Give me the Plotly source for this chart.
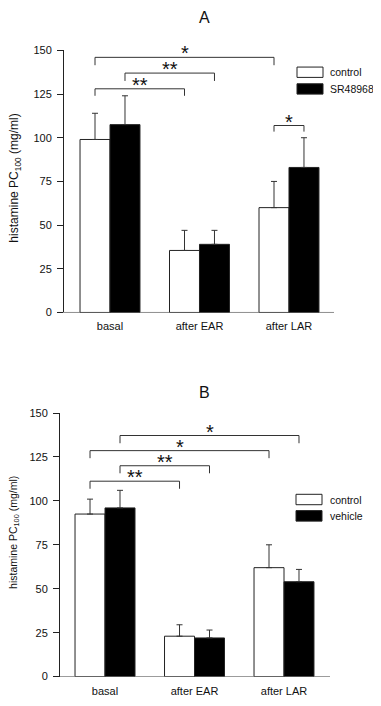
import plotly.graph_objects as go

# ---------------- data ----------------
categories = ["basal", "after EAR", "after LAR"]
y_ticks = [0, 25, 50, 75, 100, 125, 150]

seriesA_names = ["control", "SR48968"]
A_control = [99, 35.5, 60]
A_control_err = [15, 11.5, 15]
A_sr = [107.5, 39, 83]
A_sr_err = [16.5, 8, 17]

seriesB_names = ["control", "vehicle"]
B_control = [92.5, 23, 62]
B_control_err = [8.5, 6.5, 13]
B_vehicle = [96, 22, 54]
B_vehicle_err = [10, 4.5, 7]

# brackets: (label, (group, series), (group, series), level, drop)
bracketsA = [
    ("*", (0, 0), (2, 0), 146, 4.5),
    ("**", (0, 1), (1, 1), 137, 4.5),
    ("**", (0, 0), (1, 0), 128, 4),
    ("*", (2, 0), (2, 1), 107, 3.5),
]
bracketsB = [
    ("*", (0, 1), (2, 1), 137.2, 4.4),
    ("*", (0, 0), (2, 0), 128.6, 4.3),
    ("**", (0, 1), (1, 1), 120, 4.3),
    ("**", (0, 0), (1, 0), 111.2, 4.3),
]

# ---------------- layout constants ----------------
OFF = 8  # page body margin
W, H = 381 - OFF, 706 - OFF
FONT = "Liberation Sans, Arial, Helvetica, sans-serif"
BARGAP = 0.33
half = (1 - BARGAP) / 4  # offset of each bar centre from group centre


def py(px):  # window pixel (from top) -> paper y
    return 1 - (px - OFF) / H


def px_x(px):
    return (px - OFF) / W


fig = go.Figure()

panels = [
    dict(xa="x", ya="y", names=seriesA_names,
         vals=[(A_control, A_control_err), (A_sr, A_sr_err)],
         brackets=bracketsA, title="A",
         xdom=(64, 334), ydom=(311.7, 45), xr=(-0.514, 2.503),
         title_xy=(204, 11.5), ytitle_xy=(15.5, 175), ytitle_size=12,
         legend=(297, 323, [(62, 72.5), (79, 89.5)], 327.5)),
    dict(xa="x2", ya="y2", names=seriesB_names,
         vals=[(B_control, B_control_err), (B_vehicle, B_vehicle_err)],
         brackets=bracketsB, title="B",
         xdom=(60, 330), ydom=(682.2, 414), xr=(-0.503, 2.514),
         title_xy=(204, 393), ytitle_xy=(14, 536), ytitle_size=10.5,
         legend=(296, 322, [(496.7, 507.3), (513.3, 524)], 327.5)),
]

fills = ["white", "black"]
shapes = []
annotations = []

for i, p in enumerate(panels):
    for s, ((v, e), name) in enumerate(zip(p["vals"], p["names"])):
        fig.add_trace(go.Bar(
            x=list(range(len(categories))), y=v, name=name,
            xaxis=p["xa"], yaxis=p["ya"], showlegend=False,
            marker=dict(color=fills[s], line=dict(color="#222", width=1)),
            error_y=dict(type="data", array=e, arrayminus=[0] * len(e),
                         symmetric=False, color="#333", thickness=1, width=3),
        ))
    sfx = "" if i == 0 else "2"
    fig.update_layout(**{
        "xaxis" + sfx: dict(domain=[px_x(p["xdom"][0]), px_x(p["xdom"][1])],
                            range=list(p["xr"]), anchor="y" + sfx,
                            tickvals=list(range(len(categories))), ticktext=categories,
                            showline=False, ticks="", showgrid=False, zeroline=False,
                            ticklabelstandoff=6,
                            tickfont=dict(family=FONT, size=11, color="#111")),
        "yaxis" + sfx: dict(domain=[py(p["ydom"][0]), py(p["ydom"][1])],
                            range=[0, 150], anchor="x" + sfx,
                            tickvals=y_ticks, ticks="outside", ticklen=6,
                            tickcolor="#222", showline=True, linecolor="#222",
                            linewidth=1, showgrid=False, zeroline=False,
                            ticklabelstandoff=3,
                            tickfont=dict(family=FONT, size=11, color="#111")),
    })
    # x axis line slightly extending left of the y axis
    shapes.append(dict(type="line", xref=p["xa"] + " domain", yref=p["ya"],
                       x0=-6 / (p["xdom"][1] - p["xdom"][0]), x1=1, y0=0, y1=0,
                       line=dict(color="#222", width=1)))
    # significance brackets
    for label, (g1, s1), (g2, s2), lvl, drop in p["brackets"]:
        x1 = g1 + (s1 * 2 - 1) * half
        x2 = g2 + (s2 * 2 - 1) * half
        shapes.append(dict(type="path", xref=p["xa"], yref=p["ya"],
                           path=f"M {x1},{lvl - drop} L {x1},{lvl} L {x2},{lvl} L {x2},{lvl - drop}",
                           line=dict(color="#333", width=1)))
        annotations.append(dict(x=(x1 + x2) / 2, y=lvl, xref=p["xa"], yref=p["ya"],
                                text=label, showarrow=False, xanchor="center",
                                yanchor="bottom", yshift=-9,
                                font=dict(family=FONT, size=20, color="#111")))
    # panel title
    annotations.append(dict(x=px_x(p["title_xy"][0]), y=py(p["title_xy"][1]),
                            xref="paper", yref="paper", text=p["title"], showarrow=False,
                            xanchor="center", yanchor="middle",
                            font=dict(family=FONT, size=16, color="#111")))
    # y axis title
    annotations.append(dict(x=px_x(p["ytitle_xy"][0]), y=py(p["ytitle_xy"][1]),
                            xref="paper", yref="paper", textangle=-90, showarrow=False,
                            xanchor="center", yanchor="middle",
                            text="histamine PC<sub>100</sub> (mg/ml)",
                            font=dict(family=FONT, size=p["ytitle_size"], color="#111")))
    # legend
    lx0, lx1, boxes, tx = p["legend"]
    for s, (y0, y1) in enumerate(boxes):
        shapes.append(dict(type="rect", xref="paper", yref="paper",
                           x0=px_x(lx0), x1=px_x(lx1), y0=py(y1), y1=py(y0),
                           fillcolor=fills[s], line=dict(color="#222", width=1)))
        annotations.append(dict(x=px_x(tx), y=py((y0 + y1) / 2), xref="paper", yref="paper",
                                text=p["names"][s], showarrow=False,
                                xanchor="left", yanchor="middle",
                                font=dict(family=FONT, size=10.5, color="#111")))

fig.update_layout(
    width=W, height=H, margin=dict(l=0, r=0, t=0, b=0),
    paper_bgcolor="white", plot_bgcolor="white",
    barmode="group", bargap=BARGAP, bargroupgap=0,
    shapes=shapes, annotations=annotations, showlegend=False,
)

fig.write_html("out.html")
